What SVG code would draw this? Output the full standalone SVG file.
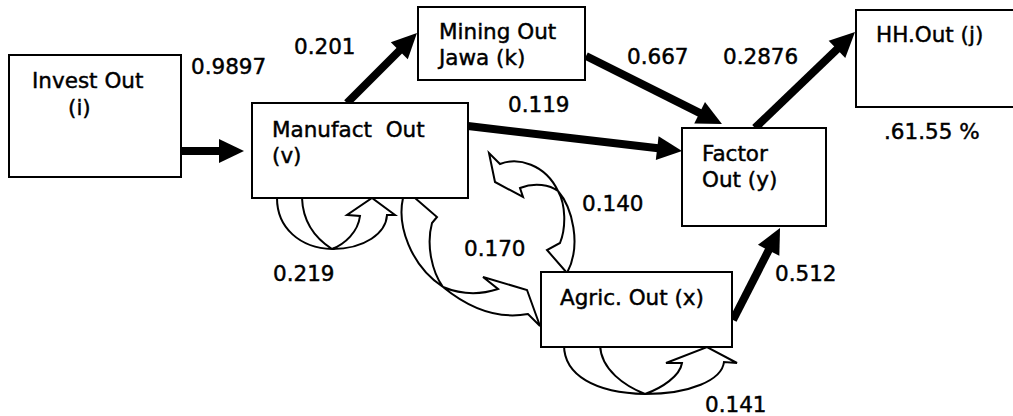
<svg xmlns="http://www.w3.org/2000/svg" width="1013" height="416" viewBox="0 0 1013 416">
  <style>
    .box { fill: #fff; stroke: #000; stroke-width: 2; }
    .lbl { font-family: "DejaVu Sans", Verdana, sans-serif; font-size: 21.5px; fill: #000; stroke: #000; stroke-width: 0.45; white-space: pre; }
    .flow { stroke: #000; stroke-width: 8; fill: none; marker-end: url(#head); }
    .loop { fill: #fff; stroke: #000; stroke-width: 2; stroke-linejoin: miter; }
  </style>
  <defs>
    <marker id="head" markerUnits="userSpaceOnUse" orient="auto" refX="0" refY="0" markerWidth="40" markerHeight="40" overflow="visible">
      <path d="M-1,-12 L24,0 L-1,12 Z" fill="#000"/>
    </marker>
  </defs>
  <rect width="1013" height="416" fill="#fff"/>

  <!-- connectors -->
  <g id="connectors">
    <!-- straight flows -->
    <line class="flow" x1="173" y1="151" x2="220" y2="151"/>
    <line class="flow" x1="347" y1="103" x2="400" y2="50"/>
    <line class="flow" x1="586" y1="56" x2="700.5" y2="113.3"/>
    <line class="flow" x1="468" y1="126" x2="658.2" y2="148.2"/>
    <line class="flow" x1="755" y1="128" x2="837.7" y2="48.6"/>
    <line class="flow" x1="733" y1="320" x2="769.1" y2="249.4"/>

    <!-- self loop on Manufact -->
    <g id="loop-v">
      <path class="loop" d="M277,198 C277,228 300,248 332,249 C318,240 303,225 302,198 Z"/>
      <path class="loop" d="M332,249 C345,244 358,232 360,216 L347,215 L372,198 L395,215 L387,215 C386,233 365,249 332,249 Z"/>
    </g>

    <!-- self loop on Agric -->
    <g id="loop-x">
      <path class="loop" d="M564,345 C564,375 595,393 645,394 C625,386 601,370 600,345 Z"/>
      <path class="loop" d="M645,394 C662,388 680,376 682,363 L666,363 L707,347 L737,363 L724,362 C722,380 690,394 645,394 Z"/>
    </g>

    <!-- Manufact to Agric -->
    <g id="curve-v-x">
      <path class="loop" d="M403,198 C397,225 410,265 443,287 C432,272 426,245 432,223 L437,217 L415,198 Z"/>
      <path class="loop" d="M443,287 C465,305 495,320 528,314 L540,326 L527,290 L483,277 L498,289 C480,295 460,294 443,287 Z"/>
    </g>

    <!-- Agric to Manufact -->
    <g id="curve-x-v">
      <path class="loop" d="M500,164 C518,157 545,164 558,191 C550,185 535,182 520,188 L523,197 L495,182 L489,153 Z"/>
      <path class="loop" d="M558,191 C572,207 582,245 567,273 L547,250 L560,243 C566,228 566,205 558,191 Z"/>
    </g>
  </g>

  <!-- nodes -->
  <g id="invest">
    <rect class="box" x="9" y="55" width="172" height="122"/>
    <text class="lbl" x="32" y="88">Invest Out</text>
    <text class="lbl" x="68" y="115">(i)</text>
  </g>
  <g id="manufact">
    <rect class="box" x="252" y="103" width="216" height="95"/>
    <text class="lbl" x="272" y="137">Manufact  Out</text>
    <text class="lbl" x="272" y="163">(v)</text>
  </g>
  <g id="mining">
    <rect class="box" x="418" y="7" width="167" height="73"/>
    <text class="lbl" x="439" y="39">Mining Out</text>
    <text class="lbl" x="439" y="65">Jawa (k)</text>
  </g>
  <g id="hh">
    <rect class="box" x="856" y="10" width="170" height="97"/>
    <text class="lbl" x="876" y="42">HH.Out (j)</text>
  </g>
  <g id="factor">
    <rect class="box" x="682" y="128" width="144" height="98"/>
    <text class="lbl" x="702" y="161">Factor</text>
    <text class="lbl" x="702" y="187">Out (y)</text>
  </g>
  <g id="agric">
    <rect class="box" x="541" y="272" width="191" height="75"/>
    <text class="lbl" x="560" y="305">Agric. Out (x)</text>
  </g>

  <!-- coefficients -->
  <g id="values">
    <text class="lbl" x="191" y="74">0.9897</text>
    <text class="lbl" x="294" y="54">0.201</text>
    <text class="lbl" x="627" y="64">0.667</text>
    <text class="lbl" x="723" y="64">0.2876</text>
    <text class="lbl" x="508" y="112">0.119</text>
    <text class="lbl" x="884" y="139">.61.55 %</text>
    <text class="lbl" x="582" y="211">0.140</text>
    <text class="lbl" x="464" y="256">0.170</text>
    <text class="lbl" x="273" y="281">0.219</text>
    <text class="lbl" x="775" y="281">0.512</text>
    <text class="lbl" x="705" y="412">0.141</text>
  </g>
</svg>
